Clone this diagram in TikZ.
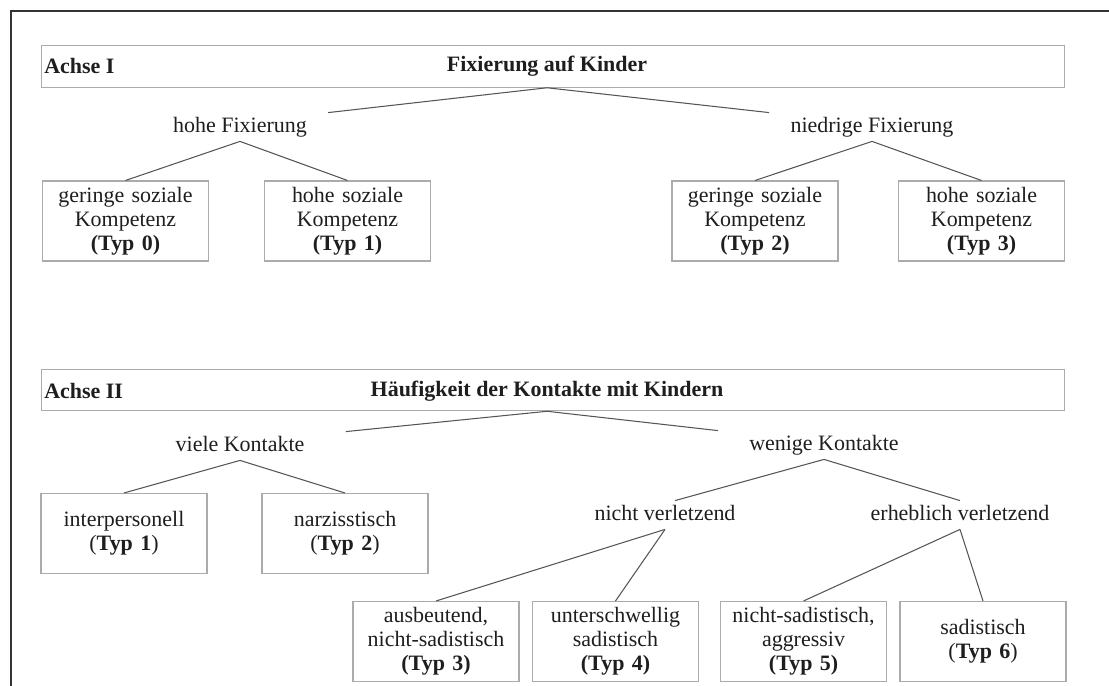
\documentclass[tikz,border=0pt]{standalone}
\usepackage{fontspec}
\setmainfont{Liberation Serif}
\usetikzlibrary{calc}
\definecolor{framecolor}{HTML}{333333}
\definecolor{boxline}{HTML}{ABABAB}
\definecolor{branchline}{HTML}{555555}
\definecolor{labelcolor}{HTML}{1E1E1E}

\begin{document}
\begin{tikzpicture}[
    x=0.02cm, y=-0.02cm,
    every node/.style={font=\fontsize{12.5}{13.7}\selectfont, text=labelcolor},
    header/.style={draw=boxline, line width=0.6pt, minimum width=20.48cm, minimum height=0.83cm, inner sep=0pt},
    headtext/.style={font=\fontsize{12.5}{13.7}\selectfont\bfseries, inner sep=0pt},
    branch/.style={inner xsep=12pt, inner ysep=2pt, text height=9pt, text depth=3pt},
    typbox/.style={draw=boxline, line width=0.6pt, minimum width=3.32cm, minimum height=1.6cm, text width=3.2cm, align=center, inner sep=0pt},
    link/.style={draw=branchline, line width=0.6pt},
    outline/.style={draw=framecolor, line width=1.6pt}
]
  \useasboundingbox (0,0) rectangle (1109,686);

  % Frame (cut at the right and the bottom)
  \path[outline] (11,686) -- (11,11) -- (1109,11);

  % 1. Achse I
  \node[header] (hdrI) at (553,66.5) {};
  \node[headtext, anchor=west] (achseI) at (44,66) {Achse I};
  \node[headtext] (titleI) at (547,66) {Fixierung auf Kinder};

  \node[branch] (hoheF) at (240,127) {hohe Fixierung};
  \node[branch] (niedF) at (872,127) {niedrige Fixierung};

  \node[typbox] (typI0) at (125.5,221) {geringe soziale\\ Kompetenz\\ \textbf{(Typ 0)}};
  \node[typbox] (typI1) at (347.5,221) {hohe soziale\\ Kompetenz\\ \textbf{(Typ 1)}};
  \node[typbox] (typI2) at (755,221) {geringe soziale\\ Kompetenz\\ \textbf{(Typ 2)}};
  \node[typbox] (typI3) at (981.5,221) {hohe soziale\\ Kompetenz\\ \textbf{(Typ 3)}};

  \path[link] (titleI |- hdrI.south) -- (hoheF.north east);
  \path[link] (titleI |- hdrI.south) -- (niedF.north west);
  \path[link] (hoheF.south) -- (typI0.north);
  \path[link] (hoheF.south) -- (typI1.north);
  \path[link] (niedF.south) -- (typI2.north);
  \path[link] (niedF.south) -- (typI3.north);

  % 2. Achse II
  \node[header] (hdrII) at (553,390) {};
  \node[headtext, anchor=west] (achseII) at (44,391) {Achse II};
  \node[headtext] (titleII) at (547,391) {Häufigkeit der Kontakte mit Kindern};

  \node[branch] (vieleK) at (240,446) {viele Kontakte};
  \node[branch] (wenigeK) at (824,445) {wenige Kontakte};
  \node[branch] (nichtV) at (665,515) {nicht verletzend};
  \node[branch] (erhebV) at (960,515) {erheblich verletzend};

  \node[typbox] (typII1) at (124,533.5) {interpersonell\\ (\textbf{Typ 1})};
  \node[typbox] (typII2) at (345,533.5) {narzisstisch\\ (\textbf{Typ 2})};
  \node[typbox] (typII3) at (436,641.5) {ausbeutend,\\ nicht-sadistisch\\ \textbf{(Typ 3)}};
  \node[typbox] (typII4) at (615.5,641.5) {unterschwellig\\ sadistisch\\ \textbf{(Typ 4)}};
  \node[typbox] (typII5) at (803.5,641.5) {nicht-sadistisch,\\ aggressiv\\ \textbf{(Typ 5)}};
  \node[typbox] (typII6) at (983,641.5) {sadistisch\\ (\textbf{Typ 6})};

  \path[link] (titleII |- hdrII.south) -- ($(vieleK.north east)+(20,0)$);
  \path[link] (titleII |- hdrII.south) -- ($(wenigeK.north west)+(-10,0)$);
  \path[link] (vieleK.south) -- (typII1.north);
  \path[link] (vieleK.south) -- (typII2.north);
  \path[link] (wenigeK.south) -- ($(nichtV.north)+(10,0)$);
  \path[link] (wenigeK.south) -- (erhebV.north);
  \path[link] (nichtV.south) -- (typII3.north);
  \path[link] (nichtV.south) -- (typII4.north);
  \path[link] (erhebV.south) -- (typII5.north);
  \path[link] (erhebV.south) -- (typII6.north);

\end{tikzpicture}
\end{document}
